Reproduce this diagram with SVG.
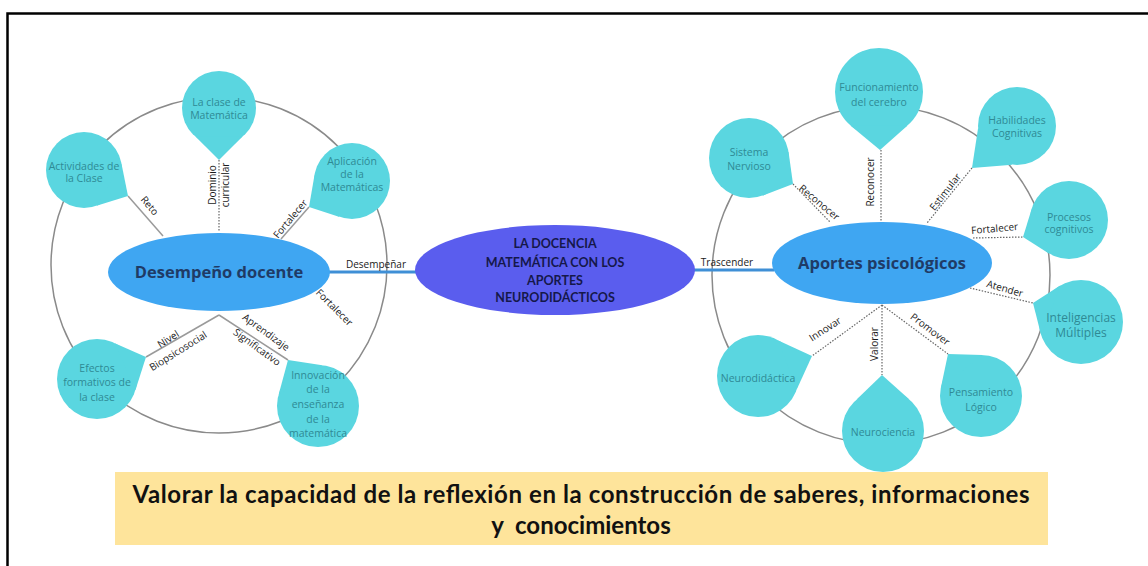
<svg xmlns="http://www.w3.org/2000/svg" width="1148" height="566" viewBox="0 0 1148 566">
<style>
.ring{fill:none;stroke:#8a8a8a;stroke-width:1.5}
.bub{fill:#5AD6E0}
.nt{font-family:"Open Sans","Noto Sans",sans-serif;font-size:10.5px;fill:#2F8A95;text-anchor:middle}
.lbl{font-family:"Open Sans","Noto Sans",sans-serif;font-size:10px;fill:#1a1a1a;text-anchor:middle}
.solid{stroke:#9a9a9a;stroke-width:1.5;fill:none}
.dot{stroke:#666;stroke-width:1.2;stroke-dasharray:1.5 1.5;fill:none}
.blue{stroke:#3F8FD6;stroke-width:3;fill:none}
.ell{fill:#3FA6F2}
.et{font-family:"Open Sans","Noto Sans",sans-serif;font-weight:bold;font-size:16.5px;fill:#1F3B66;text-anchor:middle}
.ct{font-family:Lato,"Open Sans",sans-serif;font-weight:bold;font-size:12.5px;fill:#15184A;text-anchor:middle}
.bt{font-family:Lato,"Open Sans",sans-serif;font-weight:bold;font-size:24px;fill:#111;text-anchor:middle;white-space:pre}
</style>
<rect width="1148" height="566" fill="#fff"/>
<path d="M7.5,566 V13.5 H1148" fill="none" stroke="#000" stroke-width="2.5"/>
<circle class="ring" cx="219" cy="265" r="168"/>
<circle class="ring" cx="881" cy="275" r="169"/>
<g id="connectors">
<line class="solid" x1="128" y1="196" x2="163" y2="236"/>
<line class="dot" x1="219" y1="160" x2="219" y2="232"/>
<line class="solid" x1="309" y1="207" x2="281" y2="239"/>
<line class="solid" x1="219" y1="315" x2="146" y2="357"/>
<line class="solid" x1="219" y1="315" x2="288" y2="360"/>
<line class="blue" x1="328" y1="272" x2="418" y2="272"/>
<line class="blue" x1="693" y1="270" x2="774" y2="270"/>
<line class="dot" x1="793" y1="184" x2="830" y2="222"/>
<line class="dot" x1="881" y1="150" x2="881" y2="222"/>
<line class="dot" x1="972" y1="168" x2="927" y2="223"/>
<line class="dot" x1="973" y1="238" x2="1023" y2="237"/>
<line class="dot" x1="970" y1="288" x2="1033" y2="303"/>
<line class="dot" x1="882" y1="305" x2="812" y2="356"/>
<line class="dot" x1="882" y1="305" x2="882" y2="375"/>
<line class="dot" x1="882" y1="305" x2="948" y2="354"/>
<text class="lbl" transform="translate(147,208) rotate(50)">Reto</text>
<text class="lbl" transform="translate(216,185) rotate(-90)">Dominio</text>
<text class="lbl" transform="translate(229,185) rotate(-90)">curricular</text>
<text class="lbl" transform="translate(293,221) rotate(-50)">Fortalecer</text>
<text class="lbl" transform="translate(332,310) rotate(45)">Fortalecer</text>
<text class="lbl" transform="translate(170,342) rotate(-32)">Nivel</text>
<text class="lbl" transform="translate(180,354) rotate(-32)">Biopsicosocial</text>
<text class="lbl" transform="translate(264,335) rotate(36)">Aprendizaje</text>
<text class="lbl" transform="translate(255,350) rotate(36)">Significativo</text>
<text class="lbl" x="376" y="268">Desempeñar</text>
<text class="lbl" x="727" y="266">Trascender</text>
<text class="lbl" transform="translate(817,205) rotate(40)">Reconocer</text>
<text class="lbl" transform="translate(874,182) rotate(-90)">Reconocer</text>
<text class="lbl" transform="translate(948,194) rotate(-52)">Estimular</text>
<text class="lbl" transform="translate(995,232) rotate(-5)">Fortalecer</text>
<text class="lbl" transform="translate(1004,292) rotate(16)">Atender</text>
<text class="lbl" transform="translate(827,332) rotate(-33)">Innovar</text>
<text class="lbl" transform="translate(878,344) rotate(-90)">Valorar</text>
<text class="lbl" transform="translate(928,332) rotate(37)">Promover</text>
</g>
<g id="n-desempeno">
<ellipse class="ell" cx="219" cy="272" rx="111" ry="39"/>
<text class="et" x="219" y="278">Desempeño docente</text>
</g>
<g id="n-central">
<ellipse cx="555" cy="270" rx="140" ry="45" fill="#5A5DEE"/>
<text class="ct" x="555" y="247.5">LA DOCENCIA</text>
<text class="ct" x="555" y="266.5">MATEMÁTICA CON LOS</text>
<text class="ct" x="555" y="284.5">APORTES</text>
<text class="ct" x="555" y="301.5">NEURODIDÁCTICOS</text>
</g>
<g id="n-aportes">
<ellipse class="ell" cx="882" cy="263" rx="110" ry="41"/>
<text class="et" x="882" y="269">Aportes psicológicos</text>
</g>
<g id="n-clase">
<circle class="bub" cx="219" cy="108" r="37"/>
<polygon class="bub" points="195.2,136.3 242.8,136.3 219,160"/>
<text class="nt" x="219" y="105.5">La clase de</text>
<text class="nt" x="219" y="118.5">Matemática</text>
</g>
<g id="n-actividades">
<circle class="bub" cx="84" cy="170" r="38"/>
<polygon class="bub" points="121.5,163.8 96.6,205.8 128,196"/>
<text class="nt" x="84" y="169.5">Actividades de</text>
<text class="nt" x="84" y="181.5">la Clase</text>
</g>
<g id="n-aplicacion">
<circle class="bub" cx="352" cy="181" r="38"/>
<polygon class="bub" points="339.6,216.9 314.5,175.1 309,207"/>
<text class="nt" x="352" y="164.5">Aplicación</text>
<text class="nt" x="352" y="177.5">de la</text>
<text class="nt" x="352" y="190.5">Matemáticas</text>
</g>
<g id="n-efectos">
<circle class="bub" cx="97" cy="379" r="40"/>
<polygon class="bub" points="114.8,343.2 135.4,390.3 146,357"/>
<text class="nt" x="97" y="371.5">Efectos</text>
<text class="nt" x="97" y="385.5">formativos de</text>
<text class="nt" x="97" y="400.5">la clase</text>
</g>
<g id="n-innovacion">
<circle class="bub" cx="318" cy="406" r="41"/>
<polygon class="bub" points="278.6,394.7 322.3,365.2 288,360"/>
<text class="nt" x="318" y="378.5">Innovación</text>
<text class="nt" x="318" y="393">de la</text>
<text class="nt" x="318" y="408">enseñanza</text>
<text class="nt" x="318" y="422.5">de la</text>
<text class="nt" x="318" y="436.5">matemática</text>
</g>
<g id="n-funcionamiento">
<circle class="bub" cx="879" cy="92" r="44"/>
<polygon class="bub" points="850.7,125.7 907.3,125.7 880,150"/>
<text class="nt" x="879" y="90.5">Funcionamiento</text>
<text class="nt" x="879" y="105.5">del cerebro</text>
</g>
<g id="n-habilidades">
<circle class="bub" cx="1017" cy="126" r="39"/>
<polygon class="bub" points="1012.2,164.7 978.1,128 972,168"/>
<text class="nt" x="1017" y="123.5">Habilidades</text>
<text class="nt" x="1017" y="136.5">Cognitivas</text>
</g>
<g id="n-sistema">
<circle class="bub" cx="749" cy="158" r="40"/>
<polygon class="bub" points="788.5,151.5 762.3,195.7 793,184"/>
<text class="nt" x="749" y="155.5">Sistema</text>
<text class="nt" x="749" y="169.5">Nervioso</text>
</g>
<g id="n-procesos">
<circle class="bub" cx="1069" cy="220" r="39"/>
<polygon class="bub" points="1049.7,253.9 1032.3,206.9 1023,237"/>
<text class="nt" x="1069" y="220.5">Procesos</text>
<text class="nt" x="1069" y="232.5">cognitivos</text>
</g>
<g id="n-inteligencias">
<circle class="bub" cx="1081" cy="322" r="42"/>
<polygon class="bub" points="1041.3,335.7 1060.6,285.3 1033,303"/>
<text class="nt" x="1081" y="322" style="font-size:12px">Inteligencias</text>
<text class="nt" x="1081" y="337" style="font-size:12px">Múltiples</text>
</g>
<g id="n-neurodidactica">
<circle class="bub" cx="758" cy="376" r="41"/>
<polygon class="bub" points="778.3,340.4 796.6,389.8 812,356"/>
<text class="nt" x="758" y="381.5">Neurodidáctica</text>
</g>
<g id="n-neurociencia">
<circle class="bub" cx="883" cy="431" r="41"/>
<polygon class="bub" points="856.6,399.6 909.4,399.6 882,375"/>
<text class="nt" x="883" y="435.5">Neurociencia</text>
</g>
<g id="n-pensamiento">
<circle class="bub" cx="981" cy="396" r="41"/>
<polygon class="bub" points="940.9,387.5 982.4,355 948,354"/>
<text class="nt" x="981" y="395.5">Pensamiento</text>
<text class="nt" x="981" y="410.5">Lógico</text>
</g>
<g id="n-conclusion">
<rect x="115" y="472" width="933" height="73" fill="#FEE49B"/>
<text class="bt" x="581" y="503" textLength="897" lengthAdjust="spacing">Valorar la capacidad de la reflexión en la construcción de saberes, informaciones</text>
<text class="bt" x="581" y="534" xml:space="preserve">y  conocimientos</text>
</g>
</svg>
